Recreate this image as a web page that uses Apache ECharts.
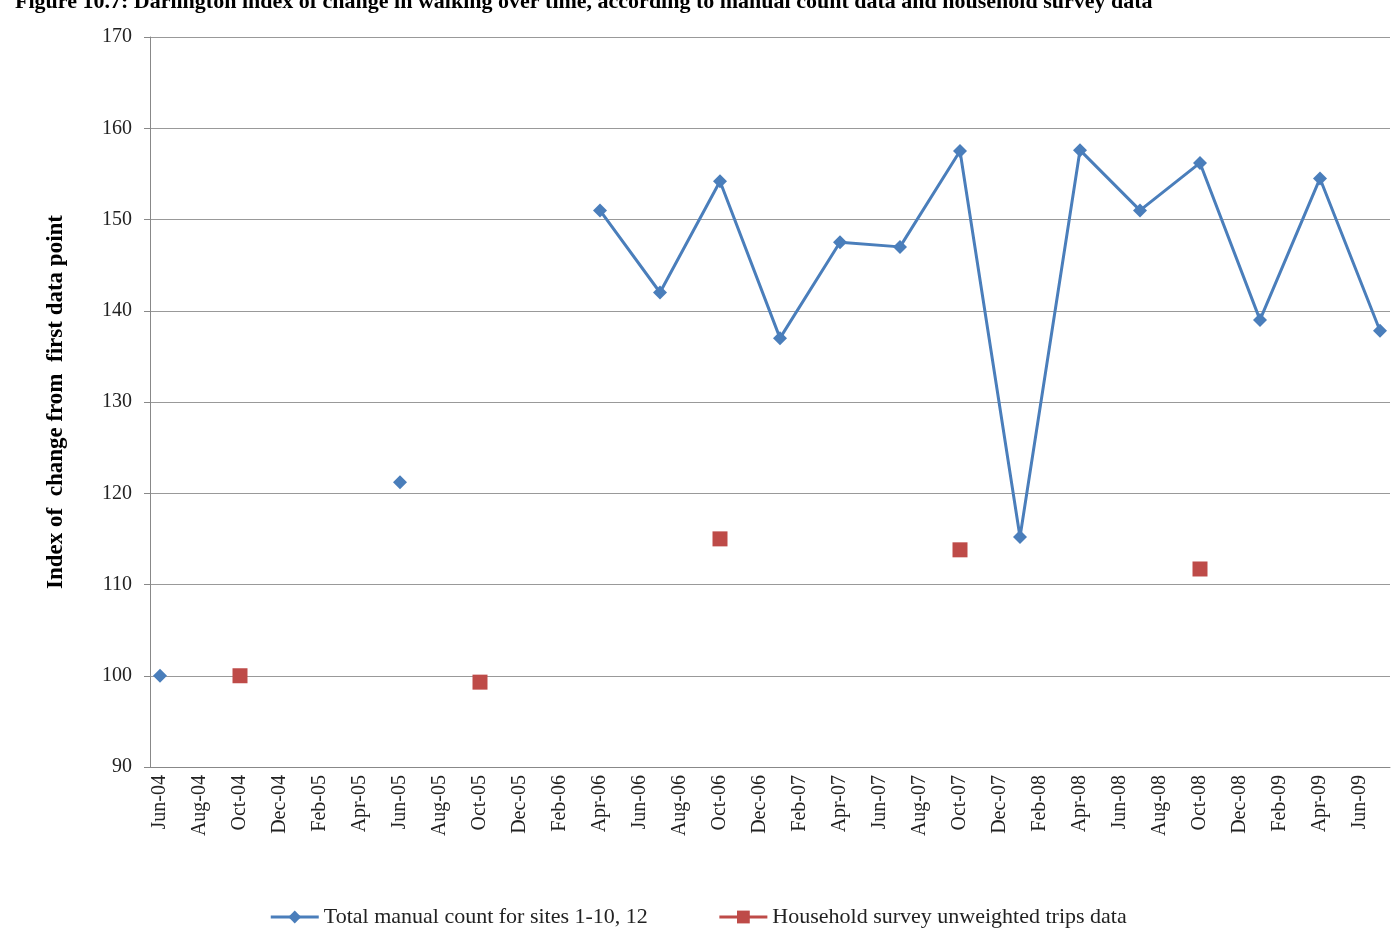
<!DOCTYPE html>
<html><head><meta charset="utf-8">
<script src="https://cdn.jsdelivr.net/npm/echarts@6/dist/echarts.min.js"></script>
<style>body{margin:0;background:#fff}#c{width:1396px;height:951px}</style>
</head><body><div id="c"></div>
<script>
var mon = ['Jan','Feb','Mar','Apr','May','Jun','Jul','Aug','Sep','Oct','Nov','Dec'];
var months = [];
for (var i = 0; i < 62; i++) {
    var m = (5 + i) % 12, y = 4 + Math.floor((5 + i) / 12);
    months.push(mon[m] + '-0' + y);
}
// blue: manual counts
var countEarly = {'Jun-04': 100, 'Jun-05': 121.2};
var countLine = {'Apr-06': 151, 'Jul-06': 142, 'Oct-06': 154.2, 'Jan-07': 137, 'Apr-07': 147.5,
    'Jul-07': 147, 'Oct-07': 157.5, 'Jan-08': 115.2, 'Apr-08': 157.6, 'Jul-08': 151,
    'Oct-08': 156.2, 'Jan-09': 139, 'Apr-09': 154.5, 'Jul-09': 137.8};
// red: household survey
var survey = {'Oct-04': 100, 'Oct-05': 99.3, 'Oct-06': 115, 'Oct-07': 113.8, 'Oct-08': 111.7};

function toSeries(obj) {
    return months.map(function (k) { return obj[k] === undefined ? null : obj[k]; });
}
var blueName = 'Total manual count for sites 1-10, 12';
var redName = 'Household survey unweighted trips data';
var font = 'Liberation Serif';

var myChart = echarts.init(document.getElementById('c'));
option = {
    animation: false,
    textStyle: {fontFamily: font},
    title: {
        text: 'Figure 10.7: Darlington index of change in walking over time, according to manual count data and household survey data',
        left: 10, top: -14,
        textStyle: {fontFamily: font, fontSize: 22, fontWeight: 'bold', color: '#000'}
    },
    grid: {left: 150, right: 6, top: 37, bottom: 184},
    legend: {
        bottom: 18, left: 'center', itemGap: 70, itemWidth: 48, itemHeight: 16,
        textStyle: {fontFamily: font, fontSize: 22, color: '#222'},
        data: [
            {name: blueName, lineStyle: {width: 3, color: '#4a7ebb'}},
            {name: redName, lineStyle: {width: 3, color: '#be4b48', opacity: 1}}
        ]
    },
    xAxis: {
        type: 'category', data: months, boundaryGap: true,
        axisLine: {lineStyle: {color: '#888'}},
        axisTick: {interval: 1, length: 6, lineStyle: {color: '#888'}},
        axisLabel: {interval: 1, rotate: 90, fontSize: 20, color: '#222', fontFamily: font}
    },
    yAxis: {
        type: 'value', min: 90, max: 170, interval: 10,
        name: 'Index of  change from  first data point', nameLocation: 'middle', nameGap: 82,
        nameTextStyle: {fontFamily: font, fontSize: 23, fontWeight: 'bold', color: '#000'},
        axisLine: {show: true, lineStyle: {color: '#888'}},
        axisTick: {show: true, length: 6, lineStyle: {color: '#888'}},
        axisLabel: {fontSize: 20, color: '#222', fontFamily: font, margin: 18},
        splitLine: {lineStyle: {color: '#999'}}
    },
    series: [
        {name: blueName, type: 'line', data: toSeries(countEarly), symbol: 'diamond', symbolSize: 14,
         showAllSymbol: true, itemStyle: {color: '#4a7ebb'}, lineStyle: {width: 3, color: '#4a7ebb'}},
        {name: blueName, type: 'line', data: toSeries(countLine), connectNulls: true, symbol: 'diamond', symbolSize: 14,
         showAllSymbol: true, itemStyle: {color: '#4a7ebb'}, lineStyle: {width: 3, color: '#4a7ebb'}},
        {name: redName, type: 'line', data: toSeries(survey), symbol: 'rect', symbolSize: 15,
         showAllSymbol: true, itemStyle: {color: '#be4b48'}, lineStyle: {width: 3, color: '#be4b48', opacity: 0}}
    ]
};
myChart.setOption(option);
</script></body></html>
